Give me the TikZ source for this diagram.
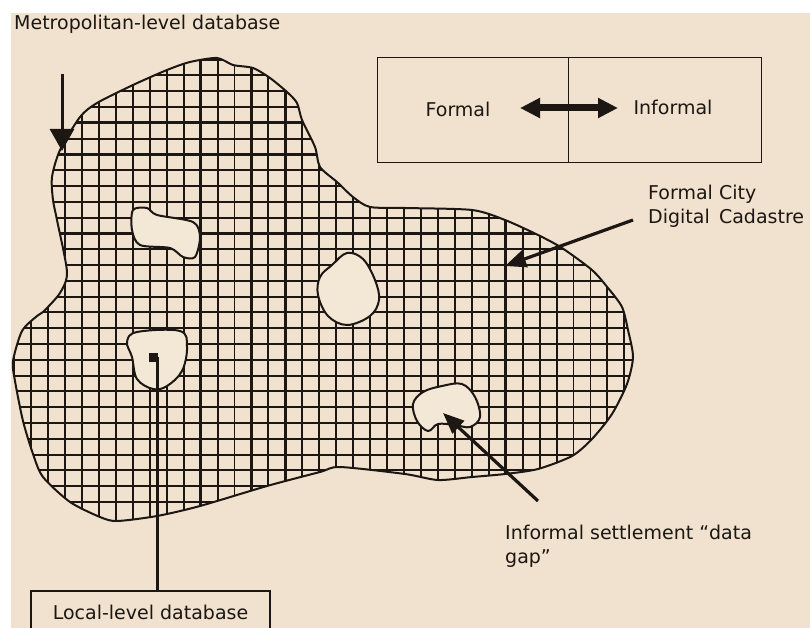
\documentclass[tikz,border=0pt]{standalone}
\usepackage{fontspec}
\setmainfont{DejaVu Sans}
\usetikzlibrary{positioning,arrows.meta}
\definecolor{PaperTint}{HTML}{F1E2CF}
\definecolor{GapTint}{HTML}{F3E7D6}
\definecolor{InkDark}{HTML}{1C1712}
\tikzset{
  outline/.style={draw=InkDark, line width=2pt, line join=round},
  gridthin/.style={draw=InkDark, line width=1.9pt},
  gridthick/.style={draw=InkDark, line width=2.6pt},
  gapshape/.style={outline, fill=GapTint},
  labeltext/.style={text=InkDark, inner sep=0pt, font=\fontsize{19}{24}\selectfont},
  framebox/.style={draw=InkDark, line width=1.8pt, fill=none, inner sep=0pt},
  pointer/.style={-{Triangle[length=22pt,width=24pt]}, line width=3pt, InkDark},
  pointersmall/.style={-{Triangle[length=21pt,width=17pt]}, line width=3.2pt, InkDark},
  swap/.style={{Triangle[length=20pt,width=19pt]}-{Triangle[length=20pt,width=19pt]}, line width=7pt, InkDark},
}
\newcommand{\BlobPath}{plot[smooth cycle, tension=0.45] coordinates {
  (217,58) (233,65) (253,68) (270,78) (287,92) (297,103) (302,120) (315,147)
  (320,167) (337,182) (353,197) (370,207) (405,208) (472,210) (505,220)
  (538,235) (562,248) (592,270) (608,288) (622,307) (628,330) (633,357) (627,384)
  (612,414) (592,439) (572,456) (538,469) (505,474) (472,477) (438,480)
  (405,474) (340,467) (320,472) (267,486) (200,506) (157,516) (117,521)
  (100,517) (70,502) (43,477) (33,454) (23,421) (15,381) (13,361) (22,331)
  (37,316) (43,312) (60,293) (67,272) (57,220) (53,200) (52,177) (60,150)
  (80,117) (97,103) (133,85) (167,70) (190,62)}}

\begin{document}
\begin{tikzpicture}[x=1pt, y=-1pt]
  \useasboundingbox (0,0) rectangle (810,628);
  \fill[white] (0,0) rectangle (810,628);
  \fill[PaperTint] (11,13) rectangle (810,628);

  % grid clipped to the city
  \begin{scope}
    \clip \BlobPath;
    \foreach \k in {-3,...,33}
      \draw[gridthin] ({65+16.95*\k},50) -- ({65+16.95*\k},530);
    \foreach \k in {-3,...,25}
      \draw[gridthin] (5,{107+15.8*\k}) -- (640,{107+15.8*\k});
    \foreach \k in {0,4,8,11,13,20,26}
      \draw[gridthick] ({65+16.95*\k},50) -- ({65+16.95*\k},530);
    \foreach \k in {1,3,5,8,11,16,21}
      \draw[gridthick] (5,{107+15.8*\k}) -- (640,{107+15.8*\k});
  \end{scope}
  \draw[outline] \BlobPath;

  % informal settlements
  \draw[gapshape] plot[smooth cycle, tension=0.5] coordinates {
    (133,210) (147,208) (157,215) (193,222) (200,237) (195,257) (183,257)
    (170,248) (140,245) (132,230)};
  \draw[gapshape] plot[smooth cycle, tension=0.6] coordinates {
    (347,253) (363,259) (375,280) (379,300) (370,316) (347,325) (328,316)
    (318,295) (320,277) (332,265)};
  \draw[gapshape] plot[smooth cycle, tension=0.6] coordinates {
    (127,342) (137,332) (180,331) (187,347) (182,371) (167,386) (153,389)
    (137,379) (132,357)};
  \draw[gapshape] plot[smooth cycle, tension=0.6] coordinates {
    (413,404) (423,392) (442,386) (462,384) (475,397) (480,417) (470,427)
    (455,425) (438,424) (428,431) (417,421)};

  % legend box
  \node[framebox, minimum width=191pt, minimum height=105pt] (formalbox) at (473,110) {};
  \node[framebox, minimum width=193pt, minimum height=105pt, right=-1.8pt of formalbox] (informalbox) {};
  \node[labeltext] (formal) at (458,109) {Formal};
  \node[labeltext] (informal) at (673,107) {Informal};
  \draw[swap] (520,108) -- (618,108);

  % labels
  \node[labeltext, anchor=west] (metro) at (14,24) {Metropolitan-level database};
  \node[labeltext, anchor=north west, align=left] (cadastre) at (648,185)
    {Formal City\\Digital \,Cadastre};
  \node[labeltext, anchor=north west, align=left] (settlement) at (505,525)
    {Informal settlement ``data\\gap''};
  \node[framebox, labeltext, minimum width=239pt, minimum height=42pt] (localbox) at (150.5,612)
    {Local-level database};
  \node[fill=InkDark, minimum size=9pt, inner sep=0pt] (localmark) at (153,357) {};

  % connectors
  \coordinate (metrostart) at (62,74);
  \coordinate (metroend) at (62,151);
  \coordinate (cadastrestart) at (633,220);
  \coordinate (cadastreend) at (505,266);
  \coordinate (gapstart) at (538,501);
  \coordinate (gapend) at (443,413);
  \draw[pointer] (metrostart) -- (metroend);
  \draw[pointersmall] (cadastrestart) -- (cadastreend);
  \draw[pointersmall] (gapstart) -- (gapend);
  \draw[line width=3pt, InkDark] (localmark.center) ++(4.5,0) -- (localbox.north -| 157.5,591);
\end{tikzpicture}
\end{document}
